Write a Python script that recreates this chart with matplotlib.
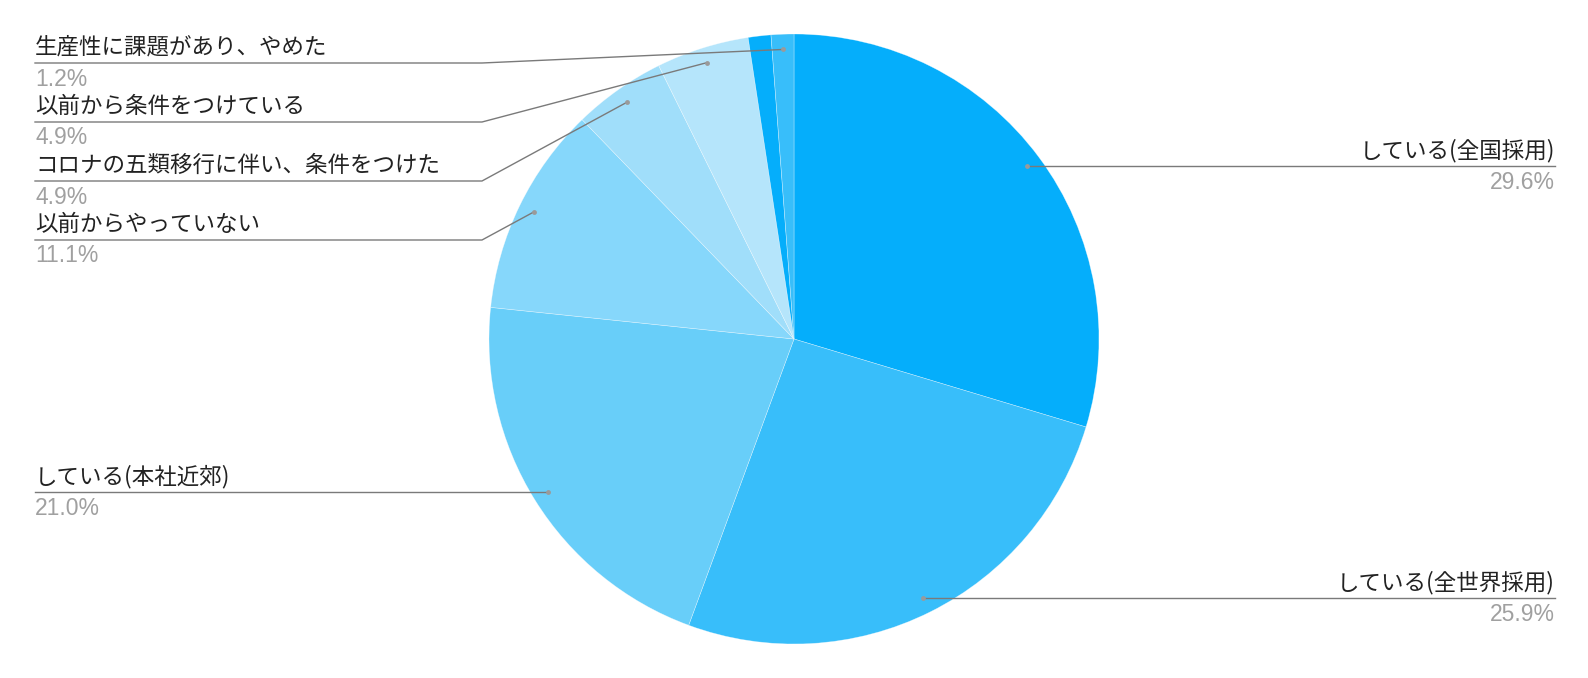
import numpy as np
import matplotlib.pyplot as plt

plt.rcParams['font.family'] = ['Noto Sans CJK JP', 'DejaVu Sans']

labels = ['している(全国採用)', 'している(全世界採用)', 'している(本社近郊)',
          '以前からやっていない', 'コロナの五類移行に伴い、条件をつけた',
          '以前から条件をつけている', '', '生産性に課題があり、やめた']
values = [29.6, 25.9, 21.0, 11.1, 4.9, 4.9, 1.2, 1.2]
pct_text = ['29.6%', '25.9%', '21.0%', '11.1%', '4.9%', '4.9%', '', '1.2%']
colors = ['#05AEFB', '#38BEFA', '#68CEF9', '#86D7FB', '#A0DEFA', '#B5E5FB',
          '#05AEFB', '#38BEFA']

W, H = 1588, 678
cx, cy, R = 794, 339, 305

fig = plt.figure(figsize=(W / 100, H / 100), dpi=100)
ax = fig.add_axes([0, 0, 1, 1])
ax.pie(values, colors=colors, startangle=-90, counterclock=True,
       center=(cx, cy), radius=R,
       wedgeprops=dict(linewidth=0.4, edgecolor=(1, 1, 1, 0.5)))
ax.set_xlim(0, W)
ax.set_ylim(H, 0)
ax.set_aspect('equal')
ax.axis('off')

# anchor points on each wedge
frac = np.cumsum(values) / np.sum(values)
mid = frac - np.array(values) / np.sum(values) / 2
theta = np.deg2rad(-90 + 360 * mid)
px = cx + 0.95 * R * np.cos(theta)
py = cy + 0.95 * R * np.sin(theta)

left_x, right_x, elbow_x = 35, 1555, 482
gap, top_y = 59, 63

# stack left labels
left = [i for i in range(len(values)) if labels[i] and px[i] < cx]
left.sort(key=lambda i: py[i])
line_y = {}
prev = None
for i in left:
    y = max(py[i], top_y) if prev is None else max(py[i], prev + gap)
    line_y[i] = y
    prev = y
for i in range(len(values)):
    if labels[i] and px[i] >= cx:
        line_y[i] = py[i]

lc = '#7a7a7a'
for i, y in line_y.items():
    if px[i] < cx:
        ax.plot([left_x, elbow_x, px[i]], [y, y, py[i]], c=lc, lw=1)
        ha, tx = 'left', left_x
    else:
        ax.plot([px[i], right_x], [py[i], y], c=lc, lw=1)
        ha, tx = 'right', right_x
    ax.text(tx, y - 16, labels[i], fontsize=16.2, color='#222222',
            ha=ha, va='center')
    ax.text(tx, y + 16, pct_text[i], fontsize=16.5, color='#a0a0a0',
            ha=ha, va='center', family='Liberation Sans')
    ax.plot(px[i], py[i], 'o', ms=3.5, c='#9a9a9a', mec='none')

fig.savefig('out.png', dpi=100)
